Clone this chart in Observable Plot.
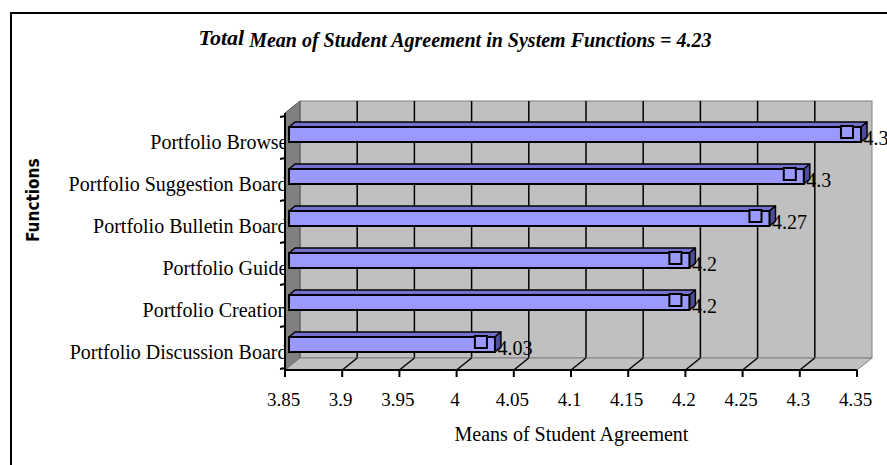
<!DOCTYPE html>
<html><head><meta charset="utf-8">
<script src="https://cdn.jsdelivr.net/npm/d3@7"></script>
<script src="https://cdn.jsdelivr.net/npm/@observablehq/plot@0.6"></script>
<style>
body{margin:0;background:#fff;}
#wrap{position:relative;width:887px;height:465px;overflow:hidden;background:#fff;}
#border{position:absolute;left:10px;top:12px;width:900px;height:480px;border:2px solid #000;box-sizing:border-box;pointer-events:none;}
#title{position:absolute;left:0;top:27px;width:910px;text-align:center;font-family:'Liberation Serif','Times New Roman',serif;font-weight:bold;font-style:italic;font-size:20px;color:#000;white-space:nowrap;}
#title .lead{font-size:22px;position:relative;top:-2px;}
#chart{position:absolute;left:0;top:0;}
</style></head><body>
<div id="wrap"><div id="chart"></div><div id="title"></div><div id="border"></div></div>
<script>
// ---- data ----
const categories = ["Portfolio Browse","Portfolio Suggestion Board","Portfolio Bulletin Board","Portfolio Guide","Portfolio Creation","Portfolio Discussion Board"];
const means = [4.35, 4.3, 4.27, 4.2, 4.2, 4.03];
const valueLabels = ["4.35","4.3","4.27","4.2","4.2","4.03"];
const xTicks = [3.85, 3.9, 3.95, 4, 4.05, 4.1, 4.15, 4.2, 4.25, 4.3, 4.35];
const xTickLabels = ["3.85","3.9","3.95","4","4.05","4.1","4.15","4.2","4.25","4.3","4.35"];
const xDomain = [3.85, 4.35];
const titleLead = "Total";
const titleRest = " Mean of Student Agreement in System Functions = 4.23";
const xTitle = "Means of Student Agreement";
const yTitle = "Functions";

const rows = categories.map((name, i) => ({name, value: means[i], label: valueLabels[i]}));

// ---- style constants ----
const serif = "'Liberation Serif','Times New Roman',serif";
const WDX = 15, WDY = -12;      // wall depth offset
const BDX = 6, BDY = -5;        // bar depth offset
const BAR_SHIFT = 4;
const INSET_TOP = 11, INSET_BOTTOM = 16;

document.getElementById("title").innerHTML =
  `<span class="lead">${titleLead}</span>${titleRest}`;

function pts(a){ return a.map(p => p.join(",")).join(" "); }

// 3D box: back wall, side wall, floor, axes lines
const box = (index, scales, values, dims) => {
  const x = scales.x, y = scales.y;
  const xl = x(xDomain[0]), xr = x(xDomain[1]);
  const yt = dims.marginTop, yb = dims.height - dims.marginBottom;
  const g = d3.create("svg:g");
  g.append("rect").attr("x", xl + WDX).attr("y", yt + WDY).attr("width", xr - xl).attr("height", yb - yt)
    .attr("fill", "#c0c0c0").attr("stroke", "#808080");
  for (const t of xTicks.slice(1, -1)) {
    g.append("line").attr("x1", x(t) + WDX).attr("x2", x(t) + WDX).attr("y1", yt + WDY).attr("y2", yb + WDY)
      .attr("stroke", "#000").attr("stroke-width", 1.5);
  }
  g.append("polygon").attr("points", pts([[xl, yt], [xl + WDX, yt + WDY], [xl + WDX, yb + WDY], [xl, yb]]))
    .attr("fill", "#808080").attr("stroke", "#555");
  g.append("polygon").attr("points", pts([[xl, yb], [xr, yb], [xr + WDX, yb + WDY], [xl + WDX, yb + WDY]]))
    .attr("fill", "#c0c0c0").attr("stroke", "#808080");
  for (const t of xTicks.slice(1, -1)) {
    g.append("line").attr("x1", x(t)).attr("x2", x(t) + WDX).attr("y1", yb).attr("y2", yb + WDY)
      .attr("stroke", "#000").attr("stroke-width", 1.5);
  }
  // front x axis
  g.append("line").attr("x1", xl).attr("x2", xr).attr("y1", yb).attr("y2", yb).attr("stroke", "#000").attr("stroke-width", 2);
  for (const t of xTicks) {
    g.append("line").attr("x1", x(t)).attr("x2", x(t)).attr("y1", yb).attr("y2", yb + 7).attr("stroke", "#000").attr("stroke-width", 2);
  }
  // left y axis
  g.append("line").attr("x1", xl).attr("x2", xl).attr("y1", yt).attr("y2", yb).attr("stroke", "#000").attr("stroke-width", 2);
  const bw = y.bandwidth();
  const bounds = categories.map(c => y(c)).concat([y(categories[categories.length - 1]) + bw]);
  for (const b of bounds) {
    g.append("line").attr("x1", xl - 5).attr("x2", xl).attr("y1", b + 1).attr("y2", b).attr("stroke", "#000").attr("stroke-width", 2);
  }
  return g.node();
};

// top & side faces of the 3D bars
const barFaces = (index, scales) => {
  const x = scales.x, y = scales.y, bw = y.bandwidth();
  const g = d3.create("svg:g");
  for (const d of rows) {
    const x0 = x(xDomain[0]) + BAR_SHIFT, x1 = x(d.value) + BAR_SHIFT;
    const y0 = y(d.name) + INSET_TOP, y1 = y(d.name) + bw - INSET_BOTTOM;
    g.append("polygon").attr("points", pts([[x0, y0], [x0 + BDX, y0 + BDY], [x1 + BDX, y0 + BDY], [x1, y0]]))
      .attr("fill", "#7373cf").attr("stroke", "#000").attr("stroke-width", 1.5).attr("stroke-linejoin", "round");
    g.append("polygon").attr("points", pts([[x1, y0], [x1 + BDX, y0 + BDY], [x1 + BDX, y1 + BDY], [x1, y1]]))
      .attr("fill", "#4d4d9a").attr("stroke", "#000").attr("stroke-width", 1.5).attr("stroke-linejoin", "round");
  }
  return g.node();
};

const chart = Plot.plot({
  width: 887,
  height: 465,
  marginLeft: 285,
  marginRight: 30,
  marginTop: 113,
  marginBottom: 95,
  style: {background: "transparent", overflow: "visible"},
  x: {domain: xDomain, axis: null},
  y: {type: "band", domain: categories, padding: 0, axis: null},
  marks: [
    Plot.text(rows, {y: "name", text: "name", frameAnchor: "left", textAnchor: "end", dx: 2, dy: 5,
      fontSize: 20, fontFamily: serif, fill: "#000"}),
    box,
    Plot.text(rows, {x: "value", y: "name", text: "label", textAnchor: "start", dx: BAR_SHIFT + 2, dy: 1,
      fontSize: 20, fontFamily: serif, fill: "#000"}),
    barFaces,
    Plot.barX(rows, {x1: () => xDomain[0], x2: "value", y: "name", insetTop: INSET_TOP, insetBottom: INSET_BOTTOM,
      dx: BAR_SHIFT, fill: "#9999ff", stroke: "#000", strokeWidth: 2}),
    Plot.dot(rows, {x: "value", y: "name", symbol: "square", r: 6.8, dx: -10.5, dy: -5.5,
      fill: "#9999ff", stroke: "#000", strokeWidth: 2}),
    Plot.text(xTicks, {x: d => d, text: (d, i) => xTickLabels[i], frameAnchor: "bottom", dy: 35, dx: -2,
      fontSize: 19, fontFamily: serif, fill: "#000"}),
    Plot.text([xTitle], {text: d => d, frameAnchor: "bottom", dy: 70, fontSize: 20, fontFamily: serif, fill: "#000"}),
    Plot.text([yTitle], {text: d => d, frameAnchor: "left", dx: -252, rotate: -90, fontSize: 17, fontWeight: "bold",
      fontFamily: "'DejaVu Sans Condensed','DejaVu Sans',sans-serif", fill: "#000"})
  ]
});
document.getElementById("chart").appendChild(chart);
</script>
</body></html>
